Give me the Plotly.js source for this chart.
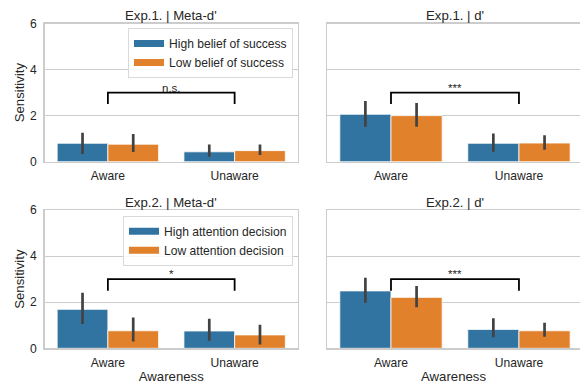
<!DOCTYPE html>
<html>
<head>
<meta charset="utf-8">
<script src="https://cdn.plot.ly/plotly-3.0.1.min.js"></script>
<style>html,body{margin:0;padding:0;background:#fff;}#chart{width:580px;height:385px;}</style>
</head>
<body>
<div id="chart"></div>
<script>
// ---- data ----
const categories = ['Aware', 'Unaware'];
const panelTitles = ["Exp.1. | Meta-d'", "Exp.1. | d'", "Exp.2. | Meta-d'", "Exp.2. | d'"];
const exp1Labels = ['High belief of success', 'Low belief of success'];
const exp2Labels = ['High attention decision', 'Low attention decision'];

// Exp.1 Meta-d'
const e1MetaHigh = [0.80, 0.43], e1MetaHighLo = [0.33, 0.22], e1MetaHighHi = [1.26, 0.75];
const e1MetaLow  = [0.76, 0.48], e1MetaLowLo  = [0.42, 0.29], e1MetaLowHi  = [1.20, 0.75];
// Exp.1 d'
const e1DHigh = [2.06, 0.80], e1DHighLo = [1.52, 0.43], e1DHighHi = [2.64, 1.22];
const e1DLow  = [2.00, 0.81], e1DLowLo  = [1.52, 0.52], e1DLowHi  = [2.55, 1.15];
// Exp.2 Meta-d'
const e2MetaHigh = [1.69, 0.75], e2MetaHighLo = [1.05, 0.33], e2MetaHighHi = [2.41, 1.28];
const e2MetaLow  = [0.76, 0.58], e2MetaLowLo  = [0.29, 0.16], e2MetaLowHi  = [1.34, 1.02];
// Exp.2 d'
const e2DHigh = [2.49, 0.82], e2DHighLo = [1.98, 0.48], e2DHighHi = [3.06, 1.30];
const e2DLow  = [2.21, 0.76], e2DLowLo  = [1.78, 0.50], e2DLowHi  = [2.70, 1.11];

// significance brackets
const bracketX = ['Aware', 'Aware', 'Unaware', 'Unaware'];
const bracketY = [2.5, 3.0, 3.0, 2.5];
const sigLabels = ['n.s.', '***', '*', '***'];

// ---- styling ----
const BLUE = '#3274a1', ORANGE = '#e1812c', ERR = '#424242', TXT = '#262626', GRID = '#cccccc';
const FONT = 'Liberation Sans, Arial, sans-serif';

const panels = [
  {xa: 'x',  ya: 'y',  high: [e1MetaHigh, e1MetaHighLo, e1MetaHighHi], low: [e1MetaLow, e1MetaLowLo, e1MetaLowHi]},
  {xa: 'x2', ya: 'y2', high: [e1DHigh, e1DHighLo, e1DHighHi], low: [e1DLow, e1DLowLo, e1DLowHi]},
  {xa: 'x3', ya: 'y3', high: [e2MetaHigh, e2MetaHighLo, e2MetaHighHi], low: [e2MetaLow, e2MetaLowLo, e2MetaLowHi]},
  {xa: 'x4', ya: 'y4', high: [e2DHigh, e2DHighLo, e2DHighHi], low: [e2DLow, e2DLowLo, e2DLowHi]}
];

function barTrace(p, s, color) {
  const [m, lo, hi] = s;
  return {
    type: 'bar', x: categories, y: m, xaxis: p.xa, yaxis: p.ya,
    marker: {color: color, line: {color: '#ffffff', width: 0.8}},
    showlegend: false, hoverinfo: 'skip',
    error_y: {type: 'data', symmetric: false,
      array: m.map((v, i) => hi[i] - v), arrayminus: m.map((v, i) => v - lo[i]),
      color: ERR, thickness: 2.7, width: 0}
  };
}

const traces = [];
const annotations = [];
panels.forEach((p, k) => {
  traces.push(barTrace(p, p.high, BLUE));
  traces.push(barTrace(p, p.low, ORANGE));
  traces.push({type: 'scatter', mode: 'lines', x: bracketX, y: bracketY, xaxis: p.xa, yaxis: p.ya,
    line: {color: '#000000', width: 1.8}, showlegend: false, hoverinfo: 'skip'});
  annotations.push({xref: p.xa, yref: p.ya, x: 0.5, y: bracketY[1], text: sigLabels[k],
    showarrow: false, yanchor: 'bottom', yshift: -3, font: {size: 11.5, color: TXT, family: FONT}});
  annotations.push({xref: p.xa, yref: p.ya + ' domain', x: 0.5, y: 1, text: panelTitles[k],
    showarrow: false, yanchor: 'bottom', yshift: -2, font: {size: 13.2, color: TXT, family: FONT}});
});

// legend-only traces (wide patches)
[[exp1Labels, 'legend', 'x', 'y'], [exp2Labels, 'legend2', 'x3', 'y3']].forEach(([labels, lg, xa, ya]) => {
  labels.forEach((lab, i) => {
    traces.push({type: 'scatter', mode: 'lines', x: [null], y: [null], xaxis: xa, yaxis: ya,
      name: lab, legend: lg, line: {color: i === 0 ? BLUE : ORANGE, width: 7}, hoverinfo: 'skip'});
  });
});

const W = 580, H = 385;
const xdomL = [44.5 / W, 298 / W], xdomR = [327 / W, 1];
const ydomT = [1 - 161.7 / H, 1 - 23.5 / H], ydomB = [1 - 348.3 / H, 1 - 210 / H];

function xax(dom, anchor, range, title) {
  const a = {domain: dom, anchor: anchor, type: 'category', range: range, showgrid: false, zeroline: false,
    showline: true, mirror: true, linecolor: GRID, linewidth: 1.25, ticks: '', automargin: false,
    ticklabelstandoff: 3,
    tickfont: {size: 12.1, color: TXT, family: FONT}, fixedrange: true};
  if (title) a.title = {text: title, font: {size: 13.2, color: TXT, family: FONT}, standoff: 2};
  return a;
}
function yax(dom, anchor, labels, title) {
  const a = {domain: dom, anchor: anchor, range: [0, 6], tickvals: [0, 2, 4, 6], showgrid: true,
    gridcolor: GRID, gridwidth: 1, zeroline: false, showline: true, mirror: labels, linecolor: GRID,
    linewidth: 1.25, ticks: '', showticklabels: labels, automargin: false, ticklabelstandoff: 4,
    tickfont: {size: 12.1, color: TXT, family: FONT}, fixedrange: true};
  if (title) a.title = {text: title, font: {size: 13.2, color: TXT, family: FONT}, standoff: 2};
  return a;
}

const legendBase = {xanchor: 'right', yanchor: 'top', bgcolor: 'rgba(255,255,255,0.85)',
  bordercolor: '#d9d9d9', borderwidth: 1, font: {size: 12.1, color: TXT, family: FONT},
  tracegroupgap: 0, itemclick: false, itemdoubleclick: false};

const layout = {
  width: W, height: H, margin: {l: 0, r: 0, t: 0, b: 0},
  paper_bgcolor: '#ffffff', plot_bgcolor: '#ffffff',
  font: {family: FONT, color: TXT},
  barmode: 'group', bargap: 0.2, bargroupgap: 0,
  xaxis: xax(xdomL, 'y', [-0.5, 1.5]),
  yaxis: yax(ydomT, 'x', true, 'Sensitivity'),
  xaxis2: xax(xdomR, 'y2', [-0.5, 1.477]),
  yaxis2: yax(ydomT, 'x2', false),
  xaxis3: xax(xdomL, 'y3', [-0.5, 1.5], 'Awareness'),
  yaxis3: yax(ydomB, 'x3', true, 'Sensitivity'),
  xaxis4: xax(xdomR, 'y4', [-0.5, 1.477], 'Awareness'),
  yaxis4: yax(ydomB, 'x4', false),
  legend: Object.assign({}, legendBase, {x: 293 / W, y: 1 - 28 / H}),
  legend2: Object.assign({}, legendBase, {x: 293 / W, y: 1 - 215.7 / H}),
  annotations: annotations,
  showlegend: true
};

Plotly.newPlot('chart', traces, layout, {displayModeBar: false, staticPlot: true});
</script>
</body>
</html>
